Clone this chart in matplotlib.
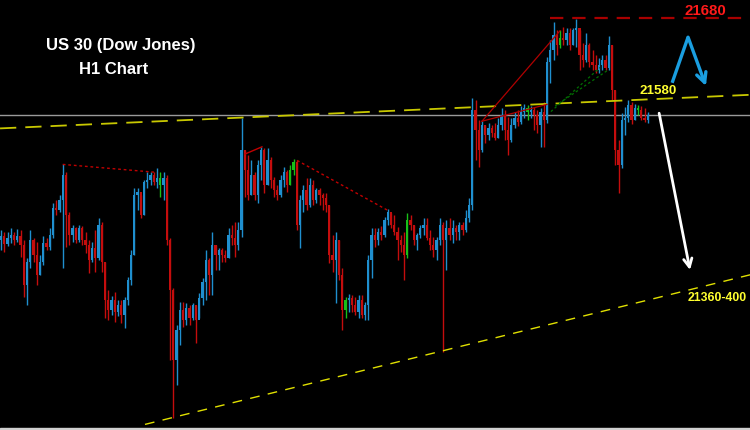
import matplotlib
matplotlib.use("Agg")
import matplotlib.pyplot as plt
import numpy as np

# ---------------- data (US 30, H1 candles) ----------------
first_open = 21402
close = [21407,21397,21405,21409,21402,21407,21396,21346,21375,21402,
         21384,21359,21375,21399,21394,21409,21442,21440,21452,21484,
         21434,21409,21417,21402,21417,21402,21396,21377,21392,21380,
         21421,21375,21327,21315,21327,21312,21321,21309,21327,21352,
         21384,21459,21462,21434,21475,21477,21484,21475,21480,21471,
         21480,21402,21340,21252,21290,21315,21302,21317,21305,21321,
         21302,21330,21350,21377,21359,21396,21384,21390,21384,21380,
         21409,21405,21396,21415,21515,21490,21459,21484,21459,21496,
         21515,21471,21502,21477,21465,21459,21477,21487,21471,21490,
         21500,21421,21452,21465,21446,21471,21452,21465,21459,21455,
         21446,21384,21377,21402,21359,21315,21327,21330,21321,21312,
         21327,21309,21321,21377,21409,21402,21412,21409,21427,21437,
         21421,21412,21402,21396,21384,21427,21421,21402,21409,21417,
         21421,21405,21396,21390,21402,21421,21402,21417,21409,21417,
         21412,21421,21415,21430,21446,21565,21540,21515,21546,21534,
         21542,21536,21530,21546,21559,21540,21527,21546,21555,21550,
         21562,21567,21562,21565,21559,21546,21562,21552,21625,21640,
         21659,21646,21655,21652,21661,21646,21665,21667,21634,21627,
         21646,21625,21621,21615,21621,21627,21617,21646,21590,21515,
         21496,21552,21555,21571,21552,21567,21565,21555,21552,21559]
high = [21415,21412,21412,21417,21412,21416,21415,21402,21380,21415,
        21405,21400,21384,21407,21405,21417,21449,21452,21459,21497,
        21487,21437,21421,21419,21421,21420,21412,21402,21400,21415,
        21430,21425,21375,21340,21332,21337,21327,21327,21331,21356,
        21390,21467,21467,21459,21477,21487,21487,21487,21492,21487,
        21487,21484,21405,21342,21296,21325,21325,21324,21321,21324,
        21321,21336,21355,21390,21380,21412,21396,21392,21392,21390,
        21417,21421,21425,21425,21555,21515,21509,21502,21487,21502,
        21519,21517,21517,21506,21481,21471,21484,21494,21490,21496,
        21504,21502,21459,21471,21480,21480,21477,21467,21467,21461,
        21461,21446,21409,21412,21402,21367,21331,21335,21334,21331,
        21334,21334,21325,21384,21417,21417,21417,21420,21431,21441,
        21436,21434,21419,21409,21412,21436,21434,21421,21411,21421,
        21430,21430,21415,21406,21406,21430,21425,21427,21430,21427,
        21421,21425,21425,21440,21455,21580,21577,21552,21551,21546,
        21549,21546,21549,21555,21567,21565,21556,21555,21562,21565,
        21570,21572,21571,21570,21569,21565,21567,21575,21631,21652,
        21675,21665,21665,21669,21667,21667,21667,21679,21665,21649,
        21661,21649,21640,21634,21630,21634,21634,21657,21646,21590,
        21527,21561,21569,21577,21575,21572,21571,21570,21567,21562]
low = [21390,21387,21395,21399,21396,21400,21381,21331,21321,21367,
       21375,21346,21359,21371,21390,21390,21405,21434,21437,21367,
       21394,21396,21400,21399,21400,21396,21386,21361,21375,21362,
       21377,21362,21305,21302,21309,21300,21307,21299,21292,21321,
       21346,21384,21440,21430,21434,21467,21471,21471,21467,21456,
       21452,21396,21252,21180,21221,21271,21294,21296,21296,21302,
       21274,21305,21321,21327,21334,21334,21365,21365,21375,21375,
       21380,21396,21381,21390,21406,21456,21452,21459,21452,21449,
       21477,21461,21471,21467,21456,21452,21456,21469,21462,21471,
       21484,21415,21392,21437,21440,21444,21446,21449,21446,21440,
       21437,21374,21362,21324,21352,21290,21305,21312,21312,21309,
       21305,21305,21302,21302,21355,21394,21396,21402,21406,21421,
       21417,21409,21377,21387,21352,21380,21415,21396,21390,21405,
       21409,21402,21390,21381,21377,21396,21262,21365,21402,21399,
       21402,21402,21409,21412,21425,21440,21502,21494,21512,21524,
       21527,21531,21527,21530,21540,21527,21509,21525,21542,21545,
       21547,21555,21552,21555,21540,21536,21519,21519,21549,21599,
       21627,21634,21642,21646,21646,21640,21646,21644,21615,21619,
       21625,21619,21615,21611,21611,21615,21615,21615,21577,21496,
       21461,21492,21534,21550,21547,21552,21559,21552,21550,21549]
green_candles = [49, 89, 90, 106, 125, 162, 172, 196]

# levels / annotations (candle index, price)
level_high = 21680
level_mid_label = "21580"
level_low_label = "21360-400"
current_price = 21559
upper_trend_x = [-0.3, 230.5]
upper_trend_y = [21542, 21584]
lower_trend_x = [44.3, 230.5]
lower_trend_y = [21172, 21359]
red_dotted_1 = ([19, 48], [21497, 21487])
red_solid_1 = ([75.1, 80.3], [21510, 21519])
red_dotted_2 = ([91.1, 118.8], [21502, 21440])
red_solid_2 = ([148, 172], [21551, 21664])
red_solid_3 = ([148, 168], [21551, 21572])
green_dotted_1 = ([169.2, 184.3], [21563, 21618])
green_dotted_2 = ([170.5, 186.8], [21570, 21615])
blue_arrow_x = [206.5, 211.4, 216.9]
blue_arrow_y = [21599, 21656, 21595]
white_arrow_x = [202.5, 212.0]
white_arrow_y = [21561, 21365]

# ---------------- drawing ----------------
plt.rcParams['font.family'] = ['Liberation Sans', 'DejaVu Sans']
fig = plt.figure(figsize=(7.5, 4.3), dpi=100, facecolor='black')
ax = fig.add_axes([0, 0, 1, 1])
ax.set_facecolor('black')

n = len(close)
idx = np.arange(n)
opens = np.array([first_open] + close[:-1], dtype=float)
closes = np.array(close, dtype=float)
highs = np.array(high, dtype=float)
lows = np.array(low, dtype=float)

BLUE = '#1f8fcf'
RED = '#c40d0d'
GREEN = '#18c018'
colors = []
for i in range(n):
    if i in green_candles:
        colors.append(GREEN)
    elif closes[i] >= opens[i]:
        colors.append(BLUE)
    else:
        colors.append(RED)

ax.vlines(idx, lows, highs, colors=colors, linewidth=1.0, zorder=3)
bottoms = np.minimum(opens, closes)
heights = np.maximum(np.abs(closes - opens), 0.8)
ax.bar(idx, heights, bottom=bottoms, width=0.72, color=colors, linewidth=0, zorder=3)

# current price line
ax.axhline(current_price, color='#9a9a9a', linewidth=1.0, zorder=2)

# trend lines
ax.plot(upper_trend_x, upper_trend_y, color='#c8c800', linewidth=1.3,
        dashes=(9, 5), zorder=4)
ax.plot(lower_trend_x, lower_trend_y, color='#e0e000', linewidth=1.0,
        dashes=(7, 6), zorder=4)
ax.plot([169, 231], [level_high, level_high], color='#a80000', linewidth=1.6,
        dashes=(6, 4), zorder=4)

ax.plot(*red_dotted_1, color='#c00000', linewidth=1.0, dashes=(2, 2), zorder=4)
ax.plot(*red_solid_1, color='#c00000', linewidth=1.0, zorder=4)
ax.plot(*red_dotted_2, color='#c00000', linewidth=1.0, dashes=(2, 2), zorder=4)
ax.plot(*red_solid_2, color='#b00000', linewidth=0.9, zorder=4)
ax.plot(*red_solid_3, color='#b00000', linewidth=0.9, zorder=4)
ax.plot(*green_dotted_1, color='#007000', linewidth=0.9, dashes=(2, 2), zorder=4)
ax.plot(*green_dotted_2, color='#007000', linewidth=0.9, dashes=(2, 2), zorder=4)

# blue zig-zag arrow
ax.plot(blue_arrow_x[:2], blue_arrow_y[:2], color='#1a9ee0', linewidth=2.4,
        solid_capstyle='butt', zorder=5)
ax.annotate('', xy=(blue_arrow_x[2], blue_arrow_y[2]),
            xytext=(blue_arrow_x[1], blue_arrow_y[1]),
            arrowprops=dict(arrowstyle='->,head_length=0.7,head_width=0.35',
                            color='#1a9ee0', lw=2.4, shrinkA=0, shrinkB=0),
            zorder=5)
# white arrow
ax.annotate('', xy=(white_arrow_x[1], white_arrow_y[1]),
            xytext=(white_arrow_x[0], white_arrow_y[0]),
            arrowprops=dict(arrowstyle='->,head_length=0.6,head_width=0.3',
                            color='white', lw=2.0, shrinkA=0, shrinkB=0),
            zorder=5)

# labels
ax.text(216.6, 21689, str(level_high), color='#ff1a1a', fontsize=10.8,
        fontweight='bold', ha='center', va='center', zorder=6)
ax.text(202.2, 21589, level_mid_label, color='#ffff30', fontsize=9.6,
        fontweight='bold', ha='center', va='center', zorder=6)
ax.text(220.3, 21330, level_low_label, color='#ffff30', fontsize=8.8,
        fontweight='bold', ha='center', va='center', zorder=6)

fig.text(0.161, 0.895, 'US 30 (Dow Jones)', color='white', fontsize=12,
         fontweight='bold', ha='center', va='center')
fig.text(0.151, 0.839, 'H1 Chart', color='white', fontsize=12,
         fontweight='bold', ha='center', va='center')

# light bottom strip
fig.patches.append(plt.Rectangle((0, 0), 1, 2.0 / 430, transform=fig.transFigure,
                                 color='#d0d0d0', zorder=10))

ax.set_xlim(-0.31, 230.46)
ax.set_ylim(21165, 21702.5)
ax.axis('off')

fig.savefig('out.png', dpi=100, facecolor='black')
